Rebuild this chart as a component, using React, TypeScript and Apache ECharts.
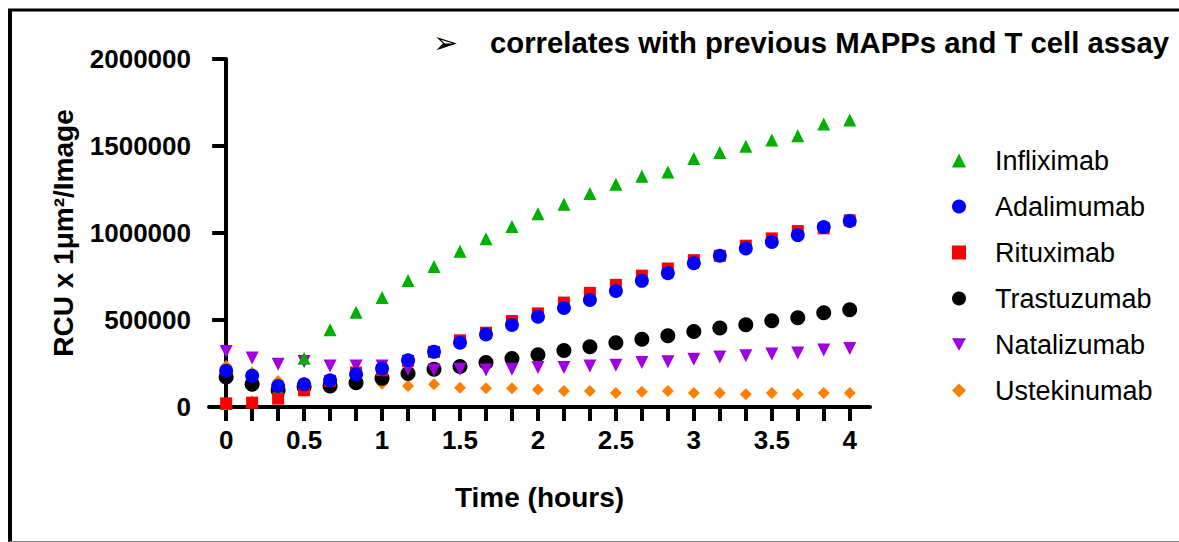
import React, { useEffect, useRef } from "react";
import * as echarts from "echarts";

const timeHours = [0, 0.1667, 0.3333, 0.5, 0.6667, 0.8333, 1, 1.1667, 1.3333, 1.5, 1.6667, 1.8333, 2, 2.1667, 2.3333, 2.5, 2.6667, 2.8333, 3, 3.1667, 3.3333, 3.5, 3.6667, 3.8333, 4];
const xLabelValues = [0, 0.5, 1, 1.5, 2, 2.5, 3, 3.5, 4];

const infliximab = [20000, 30000, 100000, 280000, 444000, 544000, 630000, 727000, 807000, 895000, 967000, 1038000, 1111000, 1165000, 1227000, 1280000, 1326000, 1351000, 1428000, 1463000, 1499000, 1534000, 1559000, 1626000, 1649000];
const adalimumab = [208000, 179000, 121000, 131000, 154000, 188000, 221000, 269000, 317000, 369000, 417000, 471000, 519000, 569000, 615000, 667000, 725000, 769000, 826000, 869000, 911000, 948000, 988000, 1034000, 1069000];
const rituximab = [21000, 25000, 48000, 96000, 150000, 198000, 211000, 265000, 317000, 383000, 427000, 494000, 538000, 600000, 656000, 702000, 755000, 796000, 844000, 869000, 927000, 969000, 1011000, 1027000, 1073000];
const trastuzumab = [173000, 131000, 96000, 115000, 121000, 140000, 165000, 192000, 217000, 233000, 256000, 279000, 300000, 325000, 346000, 369000, 390000, 409000, 434000, 454000, 473000, 496000, 513000, 542000, 559000];
const natalizumab = [319000, 281000, 246000, 261000, 236000, 236000, 236000, 217000, 213000, 217000, 212000, 217000, 227000, 227000, 236000, 240000, 256000, 260000, 275000, 288000, 294000, 304000, 310000, 327000, 336000];
const ustekinumab = [236000, 198000, 150000, 140000, 135000, 131000, 134000, 121000, 131000, 111000, 108000, 108000, 100000, 92000, 92000, 81000, 88000, 92000, 81000, 81000, 73000, 81000, 73000, 81000, 81000];

const legendOrder = ["Infliximab", "Adalimumab", "Rituximab", "Trastuzumab", "Natalizumab", "Ustekinumab"];
const titleText = "correlates with previous MAPPs and T cell assay";
const yAxisName = "RCU x 1μm²/Image";
const xAxisName = "Time (hours)";

const FONT = "Liberation Sans, Arial, sans-serif";
const DOWN_TRIANGLE = "path://M0,0 L10,0 L5,9 Z";

const pts = (vals: number[]) => timeHours.map((t, i) => [t, vals[i]]);

export default function App() {
  const ref = useRef<HTMLDivElement>(null);
  useEffect(() => {
    document.body.style.margin = "0";
    const chart = echarts.init(ref.current!, null, { renderer: "svg" });
    const mk = (name: string, vals: number[], symbol: string, size: number, color: string, rotate = 0) => ({
      name,
      type: "scatter",
      data: pts(vals),
      symbol,
      symbolSize: size,
      symbolRotate: rotate,
      itemStyle: { color, opacity: 1 },
      emphasis: { disabled: true },
    });
    chart.setOption({
      animation: false,
      backgroundColor: "#ffffff",
      grid: { left: 209, right: 309, top: 59, bottom: 135 },
      xAxis: {
        type: "value",
        min: -0.11,
        max: 4.13,
        name: xAxisName,
        nameLocation: "middle",
        nameGap: 76,
        nameTextStyle: { fontSize: 28, fontWeight: "bold", fontFamily: FONT, color: "#000" },
        axisLine: { show: true, onZero: false, lineStyle: { color: "#000", width: 4 } },
        axisTick: { show: true, length: 14, lineStyle: { color: "#000", width: 4 }, customValues: timeHours },
        axisLabel: { fontSize: 26, fontWeight: "bold", fontFamily: FONT, color: "#000", margin: 20, customValues: xLabelValues },
        splitLine: { show: false },
      },
      yAxis: {
        type: "value",
        min: 0,
        max: 2000000,
        interval: 500000,
        name: yAxisName,
        nameLocation: "middle",
        nameRotate: 90,
        nameGap: 132,
        nameTextStyle: { fontSize: 28, fontWeight: "bold", fontFamily: FONT, color: "#000" },
        axisLine: { show: true, lineStyle: { color: "#000", width: 4 } },
        axisTick: { show: true, length: 14, lineStyle: { color: "#000", width: 4 } },
        axisLabel: { fontSize: 26, fontWeight: "bold", fontFamily: FONT, color: "#000", margin: 18, formatter: (v: number) => String(v) },
        splitLine: { show: false },
      },
      legend: {
        data: legendOrder.map((n) => (n === "Natalizumab" ? { name: n, icon: DOWN_TRIANGLE } : n)),
        orient: "vertical",
        left: 947,
        top: 142,
        itemWidth: 14,
        itemHeight: 14,
        itemGap: 19,
        selectedMode: false,
        textStyle: { fontSize: 27, fontFamily: FONT, color: "#000", padding: [0, 0, 0, 24] },
      },
      series: [
        mk("Ustekinumab", ustekinumab, "diamond", 12, "#ff8000"),
        mk("Trastuzumab", trastuzumab, "circle", 15, "#000000"),
        mk("Natalizumab", natalizumab, "triangle", 13, "#a000e0", 180),
        mk("Infliximab", infliximab, "triangle", 13, "#00b000"),
        mk("Rituximab", rituximab, "rect", 12, "#ff0000"),
        mk("Adalimumab", adalimumab, "circle", 14, "#0000ff"),
      ],
      graphic: [
        { type: "line", shape: { x1: 10, y1: 10, x2: 10, y2: 542 }, style: { stroke: "#000", lineWidth: 4 } },
        { type: "line", shape: { x1: 8, y1: 10, x2: 1179, y2: 10 }, style: { stroke: "#000", lineWidth: 3 } },
        { type: "line", shape: { x1: 10, y1: 541.5, x2: 1179, y2: 541.5 }, style: { stroke: "#808080", lineWidth: 1 } },
        { type: "text", x: 433, y: 42, style: { text: "➢", fontSize: 30, fontFamily: "DejaVu Sans", fill: "#000", verticalAlign: "middle", align: "left" } },
        { type: "text", x: 490, y: 42, style: { text: titleText, fontSize: 29.3, fontWeight: "bold", fontFamily: FONT, fill: "#000", verticalAlign: "middle", align: "left" } },
      ],
    });
    return () => chart.dispose();
  }, []);
  return <div ref={ref} style={{ position: "absolute", left: 0, top: 0, width: 1179, height: 542 }} />;
}
